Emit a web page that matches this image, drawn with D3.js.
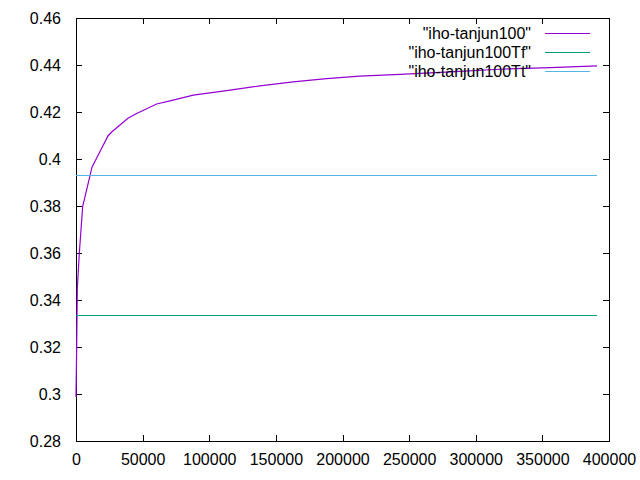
<!DOCTYPE html>
<html><head><meta charset="utf-8">
<script src="https://cdn.jsdelivr.net/npm/d3@7"></script>
<style>body{margin:0;background:#fff}svg{display:block}text{font-family:"Liberation Sans",Arial,sans-serif}</style>
</head><body>
<script>
const seriesNames = ['"iho-tanjun100"', '"iho-tanjun100Tf"', '"iho-tanjun100Tt"'];
const seriesColors = ["#9400d3", "#009e73", "#56b4e9"];
const curveX = [0, 500, 1000, 2500, 5000, 12000, 24000, 27000, 39000, 45500, 60500, 70500, 88000, 113000, 138000, 163000, 188000, 213000, 243000, 281000, 318000, 356000, 391000];
const curveY = [0.2987, 0.32, 0.345, 0.36, 0.3797, 0.3965, 0.4098, 0.4116, 0.4173, 0.4194, 0.4234, 0.4247, 0.4272, 0.4291, 0.4311, 0.4328, 0.4342, 0.4353, 0.4360, 0.4371, 0.4382, 0.4389, 0.4396];
const tfValue = 0.3332;
const ttValue = 0.3931;
const xRange = [0, 391000];
const xTicks = [0, 50000, 100000, 150000, 200000, 250000, 300000, 350000, 400000];
const yTicks = [0.28, 0.30, 0.32, 0.34, 0.36, 0.38, 0.40, 0.42, 0.44, 0.46];

const W = 640, H = 480, m = {l: 76, r: 31, t: 18, b: 39};
const svg = d3.select("body").append("svg").attr("width", W).attr("height", H);
const x = d3.scaleLinear().domain([0, 400000]).range([m.l, W - m.r]);
const y = d3.scaleLinear().domain([0.28, 0.46]).range([H - m.b, m.t]);
const fy = d => String(+d.toFixed(2));
const fx = d3.format("d");

function styleAxis(g) {
  g.selectAll("path").remove();
  g.selectAll("line").attr("stroke", "#000").attr("shape-rendering", "crispEdges");
  g.selectAll("text").attr("fill", "#000").style("font-size", "16px");
}
svg.append("g").attr("transform", `translate(0,${H - m.b})`)
  .call(d3.axisBottom(x).tickValues(xTicks).tickFormat(fx).tickSize(-6).tickPadding(13)).call(styleAxis);
svg.append("g").attr("transform", `translate(${m.l},0)`)
  .call(d3.axisLeft(y).tickValues(yTicks).tickFormat(fy).tickSize(-6).tickPadding(15)).call(styleAxis);
svg.append("g").attr("transform", `translate(0,${m.t})`)
  .call(d3.axisTop(x).tickValues(xTicks).tickFormat("").tickSize(-6)).call(styleAxis);
svg.append("g").attr("transform", `translate(${W - m.r},0)`)
  .call(d3.axisRight(y).tickValues(yTicks).tickFormat("").tickSize(-6)).call(styleAxis);
svg.append("rect").attr("x", m.l + 0.5).attr("y", m.t + 0.5)
  .attr("width", W - m.r - m.l).attr("height", H - m.b - m.t)
  .attr("fill", "none").attr("stroke", "#000").attr("shape-rendering", "crispEdges");

const legendX = 531, sampleX0 = 545, sampleX1 = 590, legendY0 = 33, legendDY = 19;
function legendEntry(i) {
  const ly = legendY0 + i * legendDY;
  svg.append("text").attr("x", legendX).attr("y", ly).attr("dy", "0.35em")
    .attr("text-anchor", "end").style("font-size", "16px").text(seriesNames[i]);
  svg.append("line").attr("x1", sampleX0).attr("x2", sampleX1).attr("y1", ly + 0.5).attr("y2", ly + 0.5)
    .attr("stroke", seriesColors[i]).attr("stroke-width", 1);
}
const line = d3.line().x(d => x(d[0])).y(d => y(d[1]));

legendEntry(0);
svg.append("path").datum(curveX.map((v, i) => [v, curveY[i]])).attr("d", line)
  .attr("fill", "none").attr("stroke", seriesColors[0]).attr("stroke-width", 1.2);
legendEntry(1);
svg.append("path").datum(xRange.map(v => [v, tfValue])).attr("d", line)
  .attr("fill", "none").attr("stroke", seriesColors[1]).attr("stroke-width", 1).attr("shape-rendering", "crispEdges");
legendEntry(2);
svg.append("path").datum(xRange.map(v => [v, ttValue])).attr("d", line)
  .attr("fill", "none").attr("stroke", seriesColors[2]).attr("stroke-width", 1).attr("shape-rendering", "crispEdges");
</script>
</body></html>
